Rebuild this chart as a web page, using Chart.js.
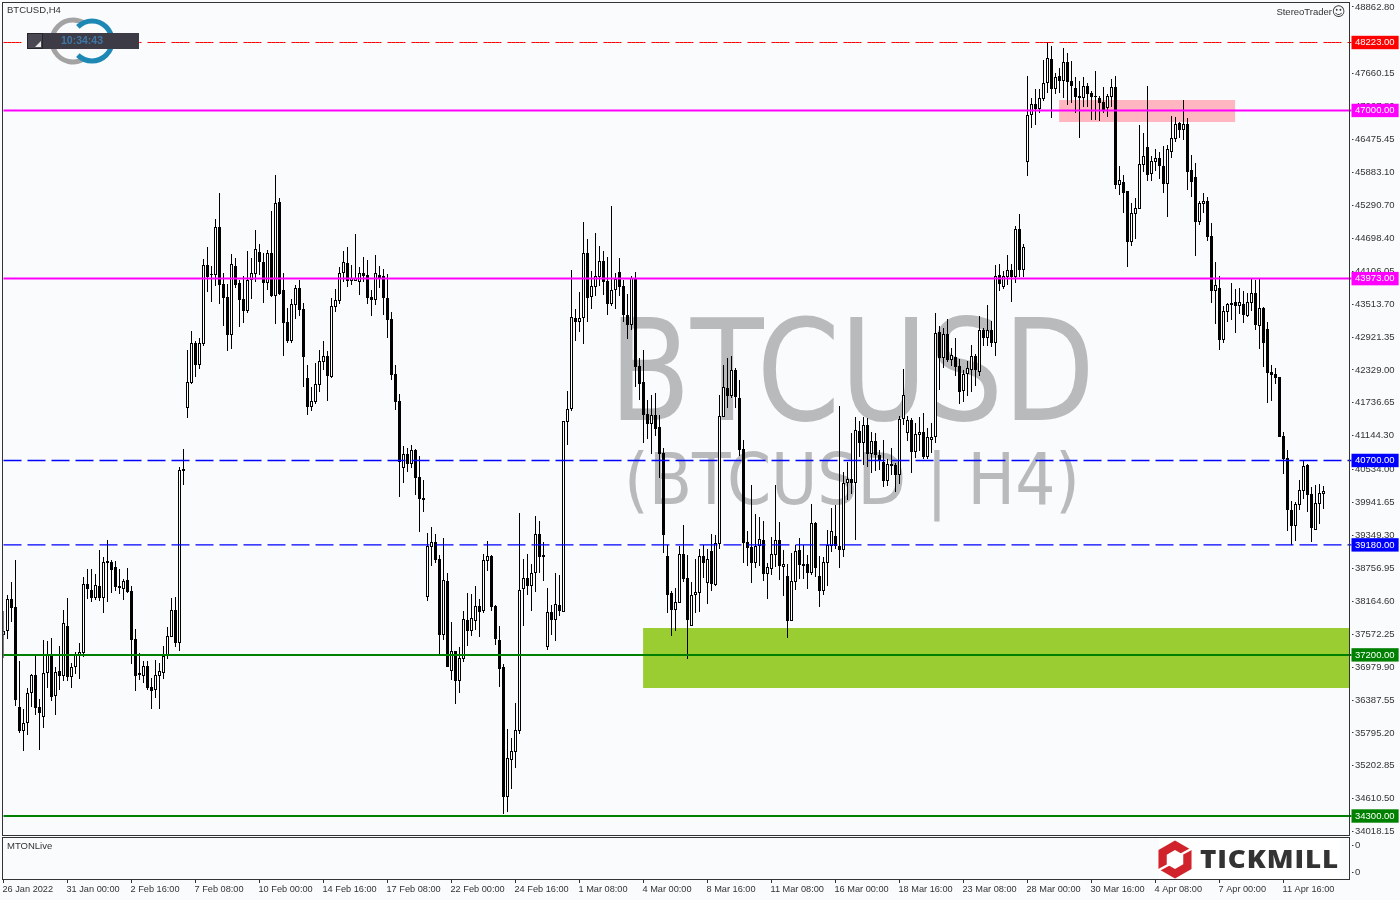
<!DOCTYPE html>
<html>
<head>
<meta charset="utf-8">
<title>BTCUSD,H4</title>
<script src="https://cdn.jsdelivr.net/npm/chart.js@4/dist/chart.umd.min.js"></script>
<style>
    html, body { margin: 0; padding: 0; background: #f9fbfd; }
    canvas { position: absolute; left: 0; display: block; }
    #main-chart { top: 0; }
    #sub-chart { top: 836px; }
</style>
</head>
<body>
<canvas id="main-chart" width="1400" height="836"></canvas>
<canvas id="sub-chart" width="1400" height="64"></canvas>
<script>
// H4 candles
const highs = [
    37990,38278,38512,38908,37090,36226,36604,36856,37180,36406,
    37468,37450,37504,36982,37360,38008,38224,37054,37252,37414,
    38602,38746,38746,38656,39088,38962,39268,38908,38890,38746,
    38566,38764,38440,37666,37234,37090,37090,36784,37108,37054,
    37360,37702,38224,38242,40582,40906,42688,43030,42850,42904,
    44326,44542,44200,45046,45514,44074,43876,44416,44344,43948,
    44020,44470,44344,44848,44596,44434,44488,45190,45838,45424,
    44074,43444,43606,43858,43948,43534,42418,42022,42454,42688,
    42850,42670,43624,43786,44182,44470,44542,44218,44776,44182,
    44362,44308,43768,44398,44200,44146,44056,43372,42418,41896,
    40960,40924,40978,40906,40780,40348,39394,39502,39376,38998,
    39304,38674,37792,37270,37342,37990,38314,38296,38440,38206,
    39016,39250,38998,38098,37720,37036,35866,35704,36334,39754,
    38926,39016,38836,39700,39610,39232,38404,38098,38674,38638,
    41410,41950,44128,43426,43732,44992,44686,44110,44794,44560,
    44470,44362,45280,44074,44344,43948,43696,44020,44092,42544,
    42688,41788,41878,41914,41518,40924,39178,38350,38404,39160,
    39538,38998,38512,38926,39106,39178,39106,39376,39358,41878,
    42418,42544,42580,42364,42148,41068,39430,40258,39736,39682,
    39610,38854,39322,40258,39592,39088,38836,39034,39178,39304,
    39178,38998,39916,39592,38980,38962,39448,39844,39898,41680,
    40492,40672,41194,41482,41410,41482,41464,41212,41194,40888,
    41068,40726,40924,40654,41500,42346,41500,41464,41374,41482,
    41554,41284,41374,43354,43120,43084,43246,42724,42904,42526,
    42328,42490,42778,42616,43300,43084,43498,43210,44218,44236,
    44110,44398,44236,44920,45136,44596,47620,47224,47386,47386,
    47908,48232,48160,47674,47764,48124,48034,47890,47602,47530,
    47602,47494,47350,47710,47260,47422,47296,47566,47620,46000,
    45838,45550,45334,45424,46738,46594,47440,46180,46306,46252,
    46360,46378,46900,46882,46792,47188,46864,46198,46054,45370,
    45514,45442,44974,44272,44020,43480,43534,43894,43786,43804,
    43750,43714,43984,43948,43984,43462,43192,42418,42364,42202,
    41212,40888,39970,39952,40348,40708,40636,40222,40258,40276,
    40240
];
const lows = [
    37144,37486,37792,36280,35794,35470,35758,36262,36118,35488,
    35884,36604,36370,36118,36568,36730,36730,36604,36856,36766,
    37162,38206,38152,38188,38170,37954,38152,38314,38350,38296,
    38188,38314,37036,36550,36748,36694,36568,36226,36424,36226,
    36766,37126,37522,37342,37270,40258,41464,42076,42202,42346,
    42760,43732,43552,43840,43516,43120,42670,42706,43804,43102,
    43174,43354,43606,43912,44038,43534,43768,43642,43156,43678,
    42580,42814,42814,43246,43300,42022,41518,41590,41716,41932,
    42328,41770,42184,43372,43516,43912,43822,43858,43930,43678,
    43912,43516,43300,43498,43804,43318,42904,42148,41608,40042,
    40294,40492,40564,40078,39412,39772,38170,38800,38854,37216,
    37468,36982,36748,36316,36514,37072,37360,37540,37648,37522,
    37954,38710,37990,37378,36622,34336,34372,34786,35164,35776,
    37720,38278,37990,38332,38674,38530,37288,37558,37450,37900,
    37972,40978,41590,42850,43012,42796,43192,43426,43660,43840,
    43678,43318,43480,43426,43660,43192,42886,43048,42022,41788,
    41014,41086,40816,41140,40384,39034,37954,37540,37630,38134,
    38512,37126,37720,37954,37972,38584,38116,38350,38440,39106,
    41482,41644,41824,41644,40780,38854,38800,38494,38764,38800,
    38530,38206,38638,38782,38548,38260,37504,37810,38368,38566,
    38566,38386,38638,38602,38062,38278,38440,39052,39106,38764,
    38962,39988,40096,39268,40762,40618,40582,40474,40510,40528,
    40222,40240,40438,40132,40276,41338,41050,40474,40744,40870,
    40726,40726,40834,41014,41968,42364,42472,42400,42220,41716,
    41752,41860,41932,42040,42220,42760,42760,42742,42580,43750,
    43786,43858,43552,43894,44002,44002,45820,46684,46738,46954,
    47170,47314,46864,47296,47314,47224,47098,47134,46954,46504,
    47062,47062,46828,46828,46810,46954,46882,47062,45586,45478,
    45154,44182,44560,44686,45226,45892,45730,45730,45910,45766,
    45514,45082,46144,46432,46504,46468,45568,45442,44380,44938,
    45154,44650,43534,43156,42688,42814,43192,43228,42994,43336,
    43174,43282,43390,43048,42706,42382,41734,41770,42076,41122,
    40456,39430,39178,39250,39808,40006,39772,39232,39448,39556,
    39826
];
const opens = [
    37558,37630,38206,38062,36262,35830,35974,36514,36838,36262,
    36082,36874,37198,36460,36910,36820,37720,36802,36982,37198,
    37234,38476,38368,38224,38440,38224,38890,38872,38782,38440,
    38386,38548,38350,37486,36874,36820,37000,36622,36568,36820,
    36874,37180,37522,38008,37414,40546,41644,42094,42814,42418,
    42796,44218,44056,44038,44902,43876,43642,42958,44200,43894,
    43606,43390,43948,44056,44452,44272,43894,44434,43660,45352,
    43768,43192,42850,43498,43804,43426,42184,41662,41752,42058,
    42472,42580,42202,43462,43570,44074,44254,43930,43930,43912,
    44074,44038,43642,43588,44038,44020,43624,43246,42256,41770,
    40564,40816,40636,40888,40402,40024,38242,39142,39232,38926,
    37558,38530,36910,37270,36730,37126,37828,37630,37810,38080,
    37990,38890,38980,38080,37468,36982,34642,35308,35452,35830,
    38386,38584,38440,38674,39376,38998,37342,37972,37828,38098,
    37972,41392,41626,43264,43192,43264,44434,43642,43822,44002,
    44290,43930,43516,43768,44092,43840,43318,43138,43966,42400,
    42112,41536,41356,41518,41302,40834,38980,38314,38008,38134,
    39016,38584,37720,38278,38314,38980,38494,39070,38458,39196,
    41482,42004,41860,42328,41824,40906,39232,39142,38854,39160,
    39268,38656,38746,38998,39268,38782,38620,37810,38512,39088,
    38836,38836,38674,39574,38620,38350,38854,39160,39340,39160,
    39088,40294,40366,40294,41230,41014,41338,40816,41050,40798,
    40672,40330,40636,40618,40438,41446,41194,41428,40852,41158,
    41212,40762,41068,41122,43012,42544,42976,42508,42562,42400,
    41950,42256,42328,42580,42292,43048,42904,43048,42814,44038,
    43822,44002,44128,44002,44866,44128,46072,46918,47116,47026,
    47206,47494,47926,47386,47620,47530,47872,47530,47404,47260,
    47224,47440,47314,47260,47224,47152,47044,47242,47422,45658,
    45712,45550,44632,45136,45226,46018,46342,45856,46072,46144,
    46000,45676,46252,46486,46774,46648,46756,45928,45802,44992,
    45316,45370,44740,43750,43804,42868,43372,43534,43552,43480,
    43516,43300,43534,43714,43120,43444,43066,42292,42256,42202,
    41140,40744,39808,39520,39898,40150,40618,40096,39448,39916,
    40096
];
const closes = [
    37630,38206,38044,36388,35830,35974,36514,36838,36244,36154,
    36874,37198,36442,36892,36820,37774,36802,36982,37198,37252,
    38476,38386,38224,38458,38224,38872,38854,38728,38422,38404,
    38530,38332,37468,36820,36838,37000,36604,36550,36838,36910,
    37180,37540,38008,37414,40528,40510,42112,42814,42418,42814,
    44218,44002,44038,44902,43858,43624,42958,44236,43858,43588,
    43390,43948,44074,44506,44272,43894,44434,43660,45334,43696,
    43174,42850,43516,43804,43408,42562,41662,41770,42076,42490,
    42580,42220,43480,43588,44074,44272,43930,43984,43984,44074,
    44020,43624,43588,44074,43984,43624,43228,42238,41752,40672,
    40816,40636,40888,40384,40006,39988,39160,39232,38908,37558,
    38548,36982,37270,36730,37144,37846,37630,37864,38080,37972,
    38908,38980,38062,37486,36946,34642,35344,35470,35848,38368,
    38584,38440,38674,39376,38962,38962,37972,37828,38116,37990,
    41410,41626,43282,43192,43264,44434,43624,43840,44020,44290,
    43912,43516,43768,43966,43822,43318,43138,43984,42382,42076,
    41518,41356,41518,41266,40816,39358,38278,38008,38152,39016,
    38566,37828,38278,38332,38980,38854,38926,38476,39214,41500,
    42022,41860,42328,41842,40888,39214,39124,38854,39160,39286,
    38656,38782,39016,39268,38800,38836,37810,38530,39070,38818,
    38800,38674,39574,38764,38350,38872,39178,39430,39160,39088,
    40294,40366,40294,41248,41014,41338,40816,41050,40798,40708,
    40330,40636,40600,40438,41446,41878,41428,40852,41176,41212,
    40762,41122,41122,42994,42544,42976,42508,42598,42382,41932,
    42256,42364,42580,42328,43048,42904,43048,42814,44020,43876,
    44020,44128,44002,44866,44128,44542,46918,47116,47026,47224,
    47494,47944,47386,47602,47530,47872,47512,47440,47242,47224,
    47440,47296,47242,47242,47134,47008,47260,47422,45658,45748,
    45514,44632,45154,45244,46036,46180,45838,46090,46144,46000,
    45676,46306,46504,46756,46648,46756,45892,45712,44992,45334,
    45370,44722,43750,43858,42868,43390,43516,43498,43480,43552,
    43318,43552,43714,43138,43444,42814,42274,42238,42184,41122,
    40726,39808,39520,39916,40168,40600,40078,39484,39934,40114,
    40150
];

// every 16th bar carries a date label
const dateLabels = [
    '26 Jan 2022', '31 Jan 00:00', '2 Feb 16:00', '7 Feb 08:00', '10 Feb 00:00', '14 Feb 16:00', '17 Feb 08:00',
    '22 Feb 00:00', '24 Feb 16:00', '1 Mar 08:00', '4 Mar 00:00', '8 Mar 16:00', '11 Mar 08:00', '16 Mar 00:00',
    '18 Mar 16:00', '23 Mar 08:00', '28 Mar 00:00', '30 Mar 16:00', '4 Apr 08:00', '7 Apr 00:00', '11 Apr 16:00'
];
const priceTicks = [
    48862.80, 47660.15, 47067.80, 46475.45, 45883.10, 45290.70, 44698.40, 44106.05, 43513.70, 42921.35, 42329.00,
    41736.65, 41144.30, 40534.00, 39941.65, 39349.30, 38756.95, 38164.60, 37572.25, 36979.90, 36387.55, 35795.20,
    35202.85, 34610.50, 34018.15
];
const levelValues = [48223, 47000, 43973, 40700, 39180, 37200, 34300];
const levelColors = ['#ff0000', '#ff00ff', '#ff00ff', '#0000ff', '#0000ff', '#008000', '#008000'];
const levelWidths = [1, 2, 2, 1.4, 1.4, 2, 2];
const levelDashes = [[18, 6], [], [], [18, 6], [18, 6], [], []];

// shaded zones: [first bar, last bar, top price, bottom price]
const zoneGreen = [159.9, 336.4, 37684, 36604];
const zonePink = [263.9, 307.9, 47188, 46792];

const BAR_SLOTS = 338;
const labels = Array.from({ length: BAR_SLOTS }, (_, i) => (i % 16 === 0 && dateLabels[i / 16]) || '');
const axisFont = { family: 'Liberation Sans', size: 9.5 };
const dateFont = { family: 'Liberation Sans', size: 9.2 };
const textColor = '#333333';
const upColor = '#ffffff';
const downColor = '#000000';

function isLevel(value) {
    return levelValues.includes(value);
}

// the first and last tick labels must not shrink the plot area
function fitAxis(axis) {
    axis.width = 48.5;
    axis.paddingTop = 0;
    axis.paddingBottom = 0;
}

function drawZone(chart, zone, color) {
    const { x, y } = chart.scales;
    const left = x.getPixelForValue(zone[0]);
    const right = x.getPixelForValue(zone[1]);
    const top = y.getPixelForValue(zone[2]);
    const bottom = y.getPixelForValue(zone[3]);
    chart.ctx.fillStyle = color;
    chart.ctx.fillRect(left, top, right - left, bottom - top);
}

// watermark and zones sit behind the candles
const backdropPlugin = {
    id: 'backdrop',
    beforeDatasetsDraw(chart) {
        const ctx = chart.ctx;
        ctx.save();
        ctx.fillStyle = '#b9babc';
        ctx.textAlign = 'center';
        ctx.textBaseline = 'alphabetic';
        ctx.font = '140px "DejaVu Sans"';
        ctx.fillText('BTCUSD', 852, 420, 486);
        ctx.font = '71px "DejaVu Sans"';
        ctx.fillText('(BTCUSD | H4)', 852, 504, 456);
        drawZone(chart, zoneGreen, '#9acd32');
        drawZone(chart, zonePink, '#ffb6c1');
        ctx.restore();
    }
};

function drawClockBadge(ctx) {
    ctx.lineWidth = 5;
    ctx.strokeStyle = '#a3a3a3';
    ctx.beginPath();
    ctx.arc(73, 41, 21, Math.PI, Math.PI * 1.68);
    ctx.stroke();
    ctx.beginPath();
    ctx.arc(73, 41, 21, Math.PI * 0.32, Math.PI);
    ctx.stroke();
    ctx.strokeStyle = '#1e88b4';
    ctx.beginPath();
    ctx.arc(92, 41, 20, Math.PI * 1.25, Math.PI * 2);
    ctx.stroke();
    ctx.beginPath();
    ctx.arc(92, 41, 20, 0, Math.PI * 0.75);
    ctx.stroke();

    ctx.fillStyle = '#3d3b45';
    ctx.fillRect(27, 33, 112, 16);
    ctx.strokeStyle = '#26252b';
    ctx.lineWidth = 1;
    ctx.fillStyle = '#4a4852';
    ctx.fillRect(28, 34, 14, 14);
    ctx.strokeRect(27.5, 33.5, 15, 15);
    ctx.fillStyle = '#e8e8e8';
    ctx.beginPath();
    ctx.moveTo(41, 41);
    ctx.lineTo(41, 47);
    ctx.lineTo(35, 47);
    ctx.fill();

    ctx.fillStyle = '#3f78a8';
    ctx.font = 'bold 10.5px "Liberation Sans"';
    ctx.textAlign = 'center';
    ctx.textBaseline = 'middle';
    ctx.fillText('10:34:43', 82, 41);
}

const overlayPlugin = {
    id: 'overlay',
    afterDraw(chart) {
        const ctx = chart.ctx;
        ctx.save();
        drawClockBadge(ctx);

        ctx.fillStyle = textColor;
        ctx.textBaseline = 'middle';
        ctx.textAlign = 'left';
        ctx.font = '9.5px "Liberation Sans"';
        ctx.fillText('BTCUSD,H4', 7, 10.5);
        ctx.textAlign = 'right';
        ctx.fillText('StereoTrader', 1332, 12.5);
        ctx.font = '13px "DejaVu Sans"';
        ctx.textAlign = 'center';
        ctx.fillText('\u263A', 1338.5, 12.5);

        // window frame
        ctx.fillStyle = textColor;
        ctx.fillRect(2, 2, 1348, 1);
        ctx.fillRect(2, 2, 1, 834);
        ctx.fillRect(1349, 2, 1, 834);
        ctx.fillRect(2, 835, 1348, 1);
        ctx.restore();
    }
};

function drawTickmillLogo(ctx) {
    ctx.fillStyle = '#ffffff';
    ctx.fillRect(1159, 838, 181, 41);

    const hexagon = (r) => {
        ctx.beginPath();
        ctx.moveTo(1175, 859.5 - r);
        ctx.lineTo(1175 + r * 0.87, 859.5 - r * 0.5);
        ctx.lineTo(1175 + r * 0.87, 859.5 + r * 0.5);
        ctx.lineTo(1175, 859.5 + r);
        ctx.lineTo(1175 - r * 0.87, 859.5 + r * 0.5);
        ctx.lineTo(1175 - r * 0.87, 859.5 - r * 0.5);
        ctx.closePath();
        ctx.fill();
    };
    ctx.fillStyle = '#d0232b';
    hexagon(19);
    ctx.fillStyle = '#ffffff';
    hexagon(9.5);
    // the two cuts through the ring
    ctx.strokeStyle = '#ffffff';
    ctx.lineWidth = 2.5;
    ctx.beginPath();
    ctx.moveTo(1180, 855);
    ctx.lineTo(1193, 848);
    ctx.moveTo(1170, 864);
    ctx.lineTo(1157, 871);
    ctx.stroke();

    ctx.fillStyle = '#333333';
    ctx.font = '800 25px "Open Sans"';
    ctx.textAlign = 'left';
    ctx.textBaseline = 'alphabetic';
    ctx.translate(1200, 868);
    ctx.scale(1.11, 1);
    ctx.letterSpacing = '0.8px';
    ctx.fillText('TICKMILL', 0, 0);
    ctx.letterSpacing = '0px';
    ctx.scale(1 / 1.11, 1);
    ctx.translate(-1200, -868);
}

const subWindowPlugin = {
    id: 'subWindow',
    afterDraw(chart) {
        const ctx = chart.ctx;
        ctx.save();
        ctx.translate(0, -836);
        drawTickmillLogo(ctx);

        ctx.fillStyle = textColor;
        ctx.font = '9.5px "Liberation Sans"';
        ctx.textAlign = 'left';
        ctx.textBaseline = 'middle';
        ctx.fillText('MTONLive', 7, 846.5);

        ctx.fillRect(2, 837, 1348, 1);
        ctx.fillRect(2, 879, 1348, 1);
        ctx.fillRect(2, 837, 1, 43);
        ctx.fillRect(1349, 837, 1, 43);
        ctx.restore();
    }
};

// Main price window
new Chart(document.getElementById('main-chart').getContext('2d'), {
    type: 'bar',
    data: {
        labels: labels,
        datasets: [
            ...levelValues.map((value, i) => ({
                type: 'line',
                label: String(value),
                data: labels.map(() => value),
                borderColor: levelColors[i],
                borderWidth: levelWidths[i],
                borderDash: levelDashes[i],
                pointRadius: 0,
                order: 0
            })),
            {
                label: 'Body',
                data: opens.map((open, i) => [open, closes[i]]),
                backgroundColor: opens.map((open, i) => (closes[i] >= open ? upColor : downColor)),
                borderColor: downColor,
                borderWidth: 1,
                borderSkipped: false,
                inflateAmount: 0,
                barThickness: 3,
                grouped: false,
                order: 1
            },
            {
                label: 'Wick',
                data: highs.map((high, i) => [lows[i], high]),
                backgroundColor: downColor,
                borderWidth: 0,
                inflateAmount: 0,
                barThickness: 1,
                grouped: false,
                order: 2
            }
        ]
    },
    options: {
        responsive: false,
        animation: false,
        layout: { padding: { left: 3.5, top: 3, right: 0, bottom: 1 } },
        plugins: { legend: { display: false }, tooltip: { enabled: false } },
        scales: {
            x: { type: 'category', display: false, offset: false, grid: { display: false } },
            y: {
                type: 'linear',
                position: 'right',
                min: 33958,
                max: 48934,
                afterFit: fitAxis,
                afterBuildTicks(axis) {
                    axis.ticks = [...priceTicks, ...levelValues].map(value => ({ value }));
                },
                border: { display: false },
                grid: { drawOnChartArea: false, tickLength: 2, tickColor: textColor },
                ticks: {
                    autoSkip: false,
                    padding: 1.5,
                    font: axisFont,
                    color: ctx => (isLevel(ctx.tick.value) ? '#ffffff' : textColor),
                    showLabelBackdrop: ctx => isLevel(ctx.tick.value),
                    backdropColor: ctx => levelColors[levelValues.indexOf(ctx.tick.value)] || 'transparent',
                    backdropPadding: { left: 4, right: 4, top: 1, bottom: 1 },
                    callback: value => value.toFixed(2)
                }
            }
        }
    },
    plugins: [backdropPlugin, overlayPlugin]
});

// MTONLive sub window with the date axis
const subTicks = [0.83, 0.19];
const subValues = [];

new Chart(document.getElementById('sub-chart').getContext('2d'), {
    type: 'line',
    data: {
        labels: labels,
        datasets: [{ label: 'MTONLive', data: subValues }]
    },
    options: {
        responsive: false,
        animation: false,
        layout: { padding: { left: 3.5, top: 2, right: 0, bottom: 0 } },
        plugins: { legend: { display: false }, tooltip: { enabled: false } },
        scales: {
            x: {
                type: 'category',
                offset: false,
                afterFit(axis) {
                    axis.height = 20;
                    axis.paddingLeft = 0;
                    axis.paddingRight = 0;
                },
                afterBuildTicks(axis) {
                    axis.ticks = axis.ticks.filter(tick => tick.value % 16 === 0 && tick.value <= 320);
                },
                border: { display: false },
                grid: { drawOnChartArea: false, tickLength: 3, tickColor: textColor },
                ticks: {
                    autoSkip: false,
                    maxRotation: 0,
                    align: 'start',
                    labelOffset: -1,
                    padding: 1,
                    font: dateFont,
                    color: textColor
                }
            },
            y: {
                position: 'right',
                min: 0,
                max: 1,
                afterFit: fitAxis,
                afterBuildTicks(axis) {
                    axis.ticks = subTicks.map(value => ({ value }));
                },
                border: { display: false },
                grid: { drawOnChartArea: false, tickLength: 2, tickColor: textColor },
                ticks: { padding: 1.5, font: axisFont, color: textColor, callback: () => '0' }
            }
        }
    },
    plugins: [subWindowPlugin]
});
</script>
</body>
</html>
